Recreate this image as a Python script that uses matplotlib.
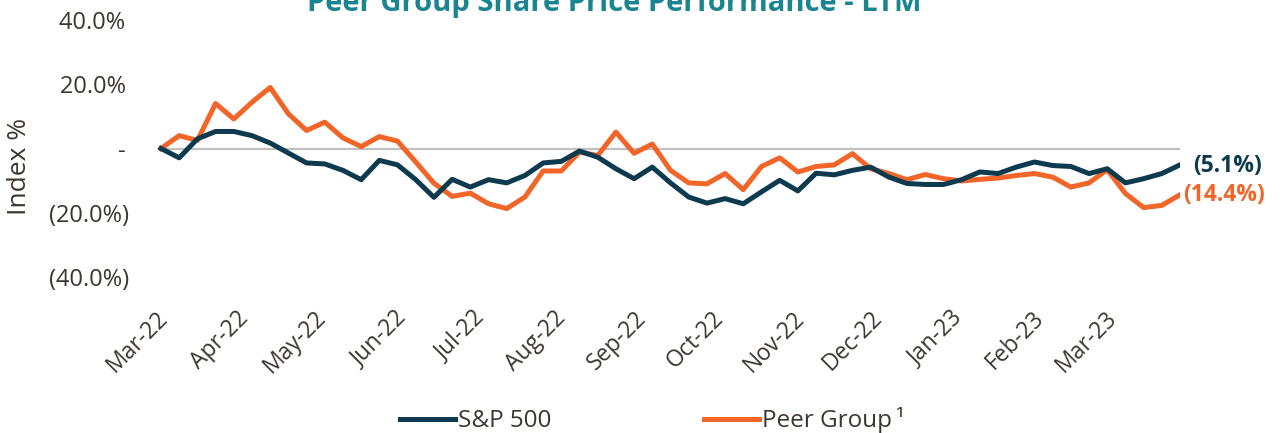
import matplotlib.pyplot as plt
import matplotlib.dates as mdates
import numpy as np
import pandas as pd

plt.rcParams['font.family'] = ['Open Sans', 'DejaVu Sans']

# weekly index % values (57 weeks)
dates = pd.date_range('2022-03-03', periods=57, freq='7D')
sp500 = [0.0, -2.9, 3.0, 5.3, 5.3, 4.0, 1.7, -1.4, -4.5, -4.8,
         -6.8, -9.7, -3.7, -5.1, -9.7, -15.2, -9.6, -12.0, -9.7, -10.7,
         -8.4, -4.5, -4.0, -0.8, -2.7, -6.3, -9.4, -5.8, -10.7, -15.1,
         -17.0, -15.6, -17.2, -13.5, -9.9, -13.2, -7.7, -8.2, -6.8, -5.8,
         -8.9, -10.9, -11.2, -11.2, -9.7, -7.3, -7.8, -5.8, -4.2, -5.3,
         -5.6, -7.8, -6.3, -10.7, -9.4, -7.8, -5.1]
peer = [0.0, 4.0, 2.5, 14.0, 9.2, 14.4, 19.0, 10.8, 5.6, 8.2,
        3.3, 0.6, 3.7, 2.3, -4.2, -10.8, -14.9, -13.9, -17.2, -18.7,
        -15.1, -7.0, -7.0, -1.1, -2.2, 5.1, -1.5, 1.4, -6.8, -10.7,
        -11.0, -7.8, -12.8, -5.6, -2.9, -7.3, -5.6, -5.1, -1.6, -6.3,
        -7.8, -9.7, -8.1, -9.4, -10.1, -9.6, -9.2, -8.4, -7.8, -8.9,
        -12.0, -10.7, -6.6, -14.0, -18.4, -17.7, -14.4]
yticks = [40, 20, 0, -20, -40]
ylabels = ['40.0%\u2009', '20.0%\u2009', '-\u2009', '(20.0%)', '(40.0%)']

navy = '#0e3a4f'
orange = '#f26529'
grey = '#3d3530'

fig = plt.figure(figsize=(12.86, 4.33), dpi=100)
ax = fig.add_axes([155.8 / 1286, 1 - 277 / 433, 1024.2 / 1286, 257 / 433])

ax.plot([dates[0], dates[-1]], [0, 0], color='#c0c0c0', lw=1.6, zorder=1)
ax.plot(dates, sp500, color=navy, lw=3.6, label='S&P 500', zorder=3)
ax.plot(dates, peer, color=orange, lw=3.6, label='Peer Group\u2009\u00b9', zorder=2)

ax.set_xlim(pd.Timestamp('2022-03-01'), dates[-1])
ax.set_ylim(-40, 40)
ax.set_yticks(yticks)
ax.set_yticklabels(ylabels, fontsize=17, color=grey)
ax.xaxis.set_major_locator(mdates.MonthLocator())
ax.xaxis.set_major_formatter(mdates.DateFormatter('%b-%y'))
plt.setp(ax.get_xticklabels(), rotation=45, ha='right', rotation_mode='anchor',
         fontsize=16.5, color=grey)
ax.tick_params(axis='y', length=0, pad=19)
ax.tick_params(axis='x', length=0, pad=21)
for s in ax.spines.values():
    s.set_visible(False)
ax.set_ylabel('Index %', fontsize=19, color=grey)
ax.yaxis.set_label_coords(-0.1205, 0.432)

ax.annotate('(5.1%)', (dates[-1], sp500[-1]), xytext=(9.4, -1), textcoords='offset points',
            color=navy, fontsize=16.5, fontweight='bold', va='center')
ax.annotate('(14.4%)', (dates[-1], peer[-1]), xytext=(2, -0.5), textcoords='offset points',
            color=orange, fontsize=16.5, fontweight='bold', va='center')

fig.text(0.478, 1 - 11 / 433, 'Peer Group Share Price Performance - LTM',
         ha='center', va='baseline', fontsize=21, fontweight='bold', color='#1a8590')

fig.legend(loc='center', bbox_to_anchor=(0.507, 0.03), ncol=2, frameon=False,
           fontsize=17.5, handlelength=2.26, columnspacing=6.3, handletextpad=0.12,
           labelcolor=grey)

fig.savefig('out.png', dpi=100)
